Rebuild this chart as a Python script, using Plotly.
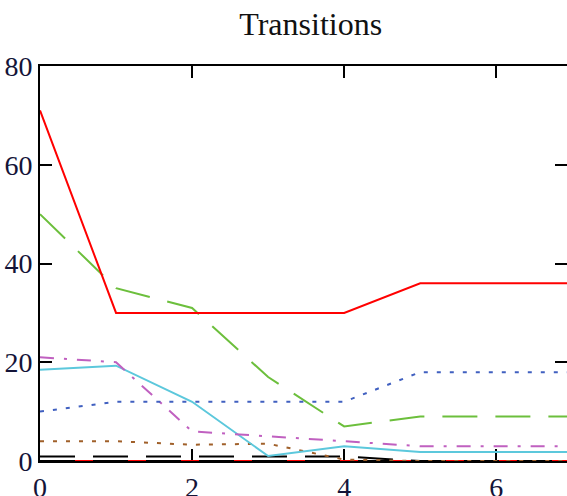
import plotly.graph_objects as go

# time steps
steps = [0, 1, 2, 3, 4, 5, 6, 7]

# state occupancy per step
red_vals = [71, 30, 30, 30, 30, 36, 36, 36]
blue_vals = [10, 12, 12, 12, 12, 18, 18, 18]
green_vals = [50, 35, 31, 17, 7, 9, 9, 9]
magenta_vals = [21, 20, 6, 5, 4, 3, 3, 3]
cyan_vals = [18.5, 19.3, 12, 1, 3, 1.8, 1.8, 1.8]
brown_vals = [4, 4, 3.3, 3.5, 0.3, 0, 0, 0]
black_vals = [0.9, 0.9, 0.9, 0.9, 0.9, 0, 0, 0]
red2_vals = [0, 0, 0, 0, 0, 0, 0, 0]
black2_vals = [0, 0, 0, 0, 0, 0, 0, 0]

x_ticks = [0, 2, 4, 6]
y_ticks = [0, 20, 40, 60, 80]

traces = [
    (red2_vals, "#ff0000", "solid"),
    (black2_vals, "#000000", "35px,18px"),
    (black_vals, "#000000", "35px,18px"),
    (brown_vals, "#a0602a", "4px,9px"),
    (cyan_vals, "#5cc8dc", "solid"),
    (magenta_vals, "#c060c0", "14px,10px,3px,10px"),
    (green_vals, "#6cbf3c", "35px,18px"),
    (blue_vals, "#4060c0", "4px,9px"),
    (red_vals, "#ff0000", "solid"),
]

fig = go.Figure()
for vals, col, dash in traces:
    fig.add_trace(go.Scatter(x=steps, y=vals, mode="lines",
                             line=dict(color=col, width=2, dash=dash),
                             showlegend=False))

# invisible trace so the right-hand tick marks get drawn
fig.add_trace(go.Scatter(x=steps, y=red_vals, yaxis="y2", mode="lines",
                         line=dict(width=0), hoverinfo="skip",
                         showlegend=False, opacity=0))

serif = "Liberation Serif, Times New Roman, serif"
tick_font = dict(family=serif, size=28, color="#141438")

fig.update_layout(
    width=567, height=496,
    margin=dict(l=40, r=0, t=66, b=35),
    paper_bgcolor="white", plot_bgcolor="white",
    title=dict(text="Transitions", x=0.548, xref="container",
               y=0.952, yref="container", xanchor="center", yanchor="middle",
               font=dict(family=serif, size=32, color="#111111")),
    xaxis=dict(range=[0, 6.93], tickvals=x_ticks, showgrid=False,
               zeroline=False, showline=True, linecolor="black", linewidth=2,
               mirror="ticks", ticks="inside", ticklen=12, tickwidth=2,
               tickcolor="black", tickfont=tick_font, automargin=False,
               ticklabelstandoff=0, layer="below traces"),
    yaxis=dict(range=[0, 80], tickvals=y_ticks, showgrid=False,
               zeroline=False, showline=True, linecolor="black", linewidth=2,
               ticks="inside", ticklen=12, tickwidth=2, tickcolor="black",
               tickfont=tick_font, automargin=False, ticklabelstandoff=0,
               layer="below traces"),
    yaxis2=dict(range=[0, 80], tickvals=y_ticks, overlaying="y",
                side="right", anchor="x", showgrid=False, zeroline=False,
                showline=False, ticks="inside", ticklen=12, tickwidth=2,
                tickcolor="black", showticklabels=False),
)

# page has a default 8px body margin, drop it so the figure sits at 0,0
fig.write_html("out.html", config={"displayModeBar": False},
               post_script="document.body.style.margin='0';")
